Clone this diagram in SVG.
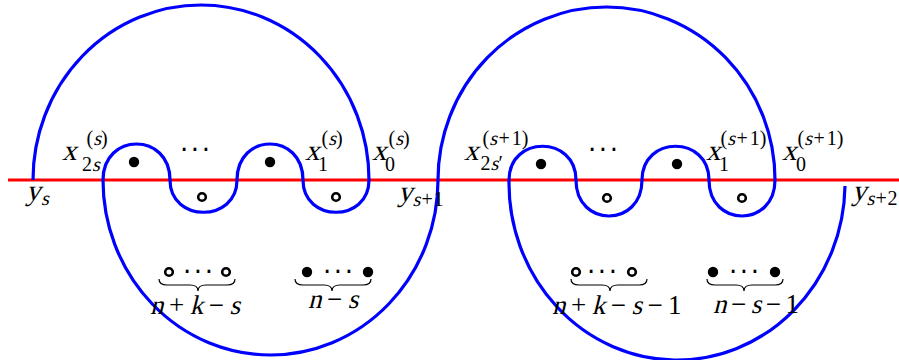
<svg xmlns="http://www.w3.org/2000/svg" width="899" height="360" viewBox="0 0 899 360">
<style>
.curve{fill:none;stroke:#0000ff;stroke-width:3.2}
.red{fill:none;stroke:#ff0000;stroke-width:3}
.full{fill:#000}
.hollow{fill:#fff;stroke:#000;stroke-width:2.6}
.brace{fill:none;stroke:#000;stroke-width:1.2}
text{font-family:'Liberation Serif','Times New Roman',serif;fill:#000}
.b{font-size:27px}
.v{font-size:29px}
.s{font-size:20px}
.dots{font-family:'DejaVu Sans',sans-serif;font-size:26px;letter-spacing:2.7px}
</style>
<g id="connectors">
<line class="red" x1="8" y1="180" x2="899" y2="180"/>
<path class="curve" d="M 33 180 A 168 175 0 0 1 369 180 C 369 223 303 223 303 180 C 303 132 237 132 237 180 C 237 223 170 223 170 180 C 170 132 103 132 103 180 A 167.5 175 0 0 0 438 180 A 168.5 173 0 0 1 775 180 C 775 228 709 228 709 180 C 709 135 642 135 642 180 C 642 228 576 228 576 180 C 576 135 509 135 509 180 A 168 177 0 0 0 845 186"/>
</g>
<g id="punctures-top">
<circle class="full" cx="134" cy="162" r="5.2"/>
<circle class="hollow" cx="202" cy="197" r="3.8"/>
<circle class="full" cx="270" cy="162" r="5.2"/>
<circle class="hollow" cx="336" cy="197" r="3.8"/>
<circle class="full" cx="541" cy="164" r="5.2"/>
<circle class="hollow" cx="607" cy="198" r="3.8"/>
<circle class="full" cx="677" cy="164" r="5.2"/>
<circle class="hollow" cx="742" cy="198" r="3.8"/>
<text class="dots" x="179.9" y="158.6">···</text>
<text class="dots" x="587.9" y="158.6">···</text>
</g>
<g id="label-x2s">
<text class="v" transform="translate(62 160) skewX(-14)">x</text>
<text class="s" x="82" y="171">2</text>
<text class="s" transform="translate(92 171) skewX(-14)">s</text>
<text class="s" x="86.5" y="145">(</text>
<text class="s" transform="translate(93.2 145) skewX(-14)">s</text>
<text class="s" x="101" y="145">)</text>
</g>
<g id="label-x1">
<text class="v" transform="translate(305 160) skewX(-14)">x</text>
<text class="s" x="318" y="171">1</text>
<text class="s" x="321.5" y="145">(</text>
<text class="s" transform="translate(328.2 145) skewX(-14)">s</text>
<text class="s" x="336" y="145">)</text>
</g>
<g id="label-x0">
<text class="v" transform="translate(372 160) skewX(-14)">x</text>
<text class="s" x="385" y="171">0</text>
<text class="s" x="388.5" y="145">(</text>
<text class="s" transform="translate(395.2 145) skewX(-14)">s</text>
<text class="s" x="403" y="145">)</text>
</g>
<g id="label-ys">
<text class="v" transform="translate(26 200) skewX(-14)">y</text>
<text class="s" transform="translate(41 205) skewX(-14)">s</text>
</g>
<g id="label-ys1">
<text class="v" transform="translate(398 201) skewX(-14)">y</text>
<text class="s" transform="translate(412.5 206) skewX(-14)">s</text>
<text class="s" x="421.5" y="206">+</text>
<text class="s" x="433.5" y="206">1</text>
</g>
<g id="label-x2s-r">
<text class="v" transform="translate(464 160) skewX(-14)">x</text>
<text class="s" x="480.5" y="170">2</text>
<text class="s" transform="translate(490.5 170) skewX(-14)">s</text>
<text class="s" x="498.5" y="170">′</text>
<text class="s" x="482.5" y="145">(</text>
<text class="s" transform="translate(489.2 145) skewX(-14)">s</text>
<text class="s" x="498.5" y="145">+</text>
<text class="s" x="511.8" y="145">1</text>
<text class="s" x="521.8" y="145">)</text>
</g>
<g id="label-x1-r">
<text class="v" transform="translate(706 160) skewX(-14)">x</text>
<text class="s" x="719" y="171">1</text>
<text class="s" x="720.5" y="145">(</text>
<text class="s" transform="translate(727.2 145) skewX(-14)">s</text>
<text class="s" x="736.5" y="145">+</text>
<text class="s" x="749.8" y="145">1</text>
<text class="s" x="759.8" y="145">)</text>
</g>
<g id="label-x0-r">
<text class="v" transform="translate(782 160) skewX(-14)">x</text>
<text class="s" x="796" y="171">0</text>
<text class="s" x="797.5" y="145">(</text>
<text class="s" transform="translate(804.2 145) skewX(-14)">s</text>
<text class="s" x="813.5" y="145">+</text>
<text class="s" x="826.8" y="145">1</text>
<text class="s" x="836.8" y="145">)</text>
</g>
<g id="label-ys2">
<text class="v" transform="translate(852 200) skewX(-14)">y</text>
<text class="s" transform="translate(866.5 205) skewX(-14)">s</text>
<text class="s" x="875.5" y="205">+</text>
<text class="s" x="887.5" y="205">2</text>
</g>
<g id="group-left-hollow">
<circle class="hollow" cx="169" cy="272" r="3.8"/>
<circle class="hollow" cx="226" cy="272" r="3.8"/>
<text class="dots" x="182.9" y="280.6">···</text>
<path class="brace" d="M 159 279 Q 159 285 167 285 L 190 285 Q 198 285 198 291 Q 198 285 206 285 L 227 285 Q 235 285 235 279"/>
<text class="b" transform="translate(150 314) skewX(-14)">n</text>
<text class="b" x="169" y="314">+</text>
<text class="b" transform="translate(189.7 314) skewX(-14)">k</text>
<text class="b" x="208.7" y="314">−</text>
<text class="b" transform="translate(229.4 314) skewX(-14)">s</text>
</g>
<g id="group-left-full">
<circle class="full" cx="307" cy="272" r="5.2"/>
<circle class="full" cx="368" cy="272" r="5.2"/>
<text class="dots" x="322.9" y="280.6">···</text>
<path class="brace" d="M 295 279 Q 295 285 303 285 L 324 285 Q 332 285 332 291 Q 332 285 340 285 L 363 285 Q 371 285 371 279"/>
<text class="b" transform="translate(308 308) skewX(-14)">n</text>
<text class="b" x="327" y="308">−</text>
<text class="b" transform="translate(347.7 308) skewX(-14)">s</text>
</g>
<g id="group-right-hollow">
<circle class="hollow" cx="576" cy="272" r="3.8"/>
<circle class="hollow" cx="632" cy="272" r="3.8"/>
<text class="dots" x="586.9" y="280.6">···</text>
<path class="brace" d="M 571 279 Q 571 285 579 285 L 602 285 Q 610 285 610 291 Q 610 285 618 285 L 639 285 Q 647 285 647 279"/>
<text class="b" transform="translate(552 314) skewX(-14)">n</text>
<text class="b" x="571" y="314">+</text>
<text class="b" transform="translate(591.7 314) skewX(-14)">k</text>
<text class="b" x="610.7" y="314">−</text>
<text class="b" transform="translate(631.4 314) skewX(-14)">s</text>
<text class="b" x="647.4" y="314">−</text>
<text class="b" x="668.1" y="314">1</text>
</g>
<g id="group-right-full">
<circle class="full" cx="713" cy="272" r="5.2"/>
<circle class="full" cx="775" cy="272" r="5.2"/>
<text class="dots" x="728.9" y="280.6">···</text>
<path class="brace" d="M 707 279 Q 707 285 715 285 L 736 285 Q 744 285 744 291 Q 744 285 752 285 L 775 285 Q 783 285 783 279"/>
<text class="b" transform="translate(713 313) skewX(-14)">n</text>
<text class="b" x="731" y="313">−</text>
<text class="b" transform="translate(750.7 313) skewX(-14)">s</text>
<text class="b" x="765.7" y="313">−</text>
<text class="b" x="785.4" y="313">1</text>
</g>
</svg>
